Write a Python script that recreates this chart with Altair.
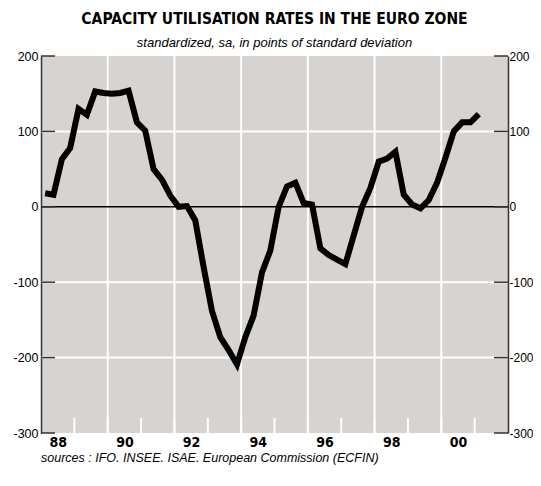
import altair as alt
import pandas as pd

# Quarterly data 1988Q1 - 2001Q1
values = [18, 16, 63, 78,
          130, 122, 153, 151,
          150, 151, 154, 112,
          101, 50, 36, 15,
          0, 1, -18, -80,
          -138, -173, -190, -209,
          -173, -144, -87, -58,
          0, 27, 32, 5,
          3, -55, -64, -70,
          -76, -38, 0, 25,
          60, 64, 73, 16,
          3, -2, 9, 32,
          65, 100, 112, 112,
          123]
start_year = 1988
y_ticks = [200, 100, 0, -100, -200, -300]
y_grid = [100, -100, -200]
x_label_years = [1988, 1990, 1992, 1994, 1996, 1998, 2000]
x_grid_years = [1990, 1992, 1994, 1996, 1998, 2000]
x_minor_years = list(range(1989, 2002))

W, H = 467, 377
FONT = "Liberation Sans"
NARROW = "Liberation Sans Narrow, DejaVu Sans Condensed, Liberation Sans"
BG = "#d6d3d0"
DARK = "#333333"
YLAB = "datum.value < 0 ? '-' + toString(-datum.value) : toString(datum.value)"

df = pd.DataFrame({
    "t": [start_year + i / 4 + 0.125 for i in range(len(values))],
    "v": values,
})

xs = alt.Scale(domain=[1988, 2002], nice=False, zero=False)
ys = alt.Scale(domain=[-300, 200], nice=False, zero=False)

X_AXIS = alt.Axis(values=[y + 0.5 for y in x_label_years],
                  labelExpr="substring(toString(floor(datum.value)), 2)",
                  ticks=False, domain=False, grid=False, labelPadding=2,
                  labelFont=NARROW, labelFontSize=14, labelFontWeight="bold",
                  labelColor="black", title=None)

ygrid = alt.Chart(pd.DataFrame({"gv": y_grid})).mark_rule(
    color="white", strokeWidth=2
).encode(y=alt.Y("gv:Q", scale=ys, axis=None))

xgrid = alt.Chart(pd.DataFrame({"gt": x_grid_years})).mark_rule(
    color="white", strokeWidth=2
).encode(x=alt.X("gt:Q", scale=xs))

xminor = alt.Chart(pd.DataFrame({"mt": x_minor_years})).mark_rule(
    color="white", strokeWidth=2
).encode(x=alt.X("mt:Q", scale=xs), y=alt.value(H - 15), y2=alt.value(H))

zero = alt.Chart(pd.DataFrame({"zv": [0]})).mark_rule(
    color="black", strokeWidth=1.5
).encode(y=alt.Y("zv:Q", scale=ys,
                 axis=alt.Axis(orient="right", values=y_ticks, ticks=False,
                               labelPadding=1, grid=False, domain=True,
                               domainColor=DARK, domainWidth=1.5,
                               labelFont=FONT, labelFontSize=12, labelExpr=YLAB,
                               labelColor="black", title=None)))

ticks_df = pd.DataFrame({"tv": y_ticks})
lticks = alt.Chart(ticks_df).mark_rule(color=DARK, strokeWidth=1.5).encode(
    y=alt.Y("tv:Q", scale=ys, axis=None), x=alt.value(0), x2=alt.value(14))
rticks = alt.Chart(ticks_df).mark_rule(color=DARK, strokeWidth=1.5).encode(
    y=alt.Y("tv:Q", scale=ys, axis=None), x=alt.value(W - 14), x2=alt.value(W))

line = alt.Chart(df).mark_line(color="black", strokeWidth=6, strokeJoin="miter").encode(
    x=alt.X("t:Q", scale=xs, axis=X_AXIS),
    y=alt.Y("v:Q", scale=ys,
            axis=alt.Axis(orient="left", values=y_ticks, ticks=False,
                          labelPadding=3, grid=False, domain=True,
                          domainColor=DARK, domainWidth=1.5,
                          labelFont=FONT, labelFontSize=12.5, labelExpr=YLAB,
                          labelColor="black", title=None)),
)

source = alt.Chart(pd.DataFrame({"s": ["sources : IFO. INSEE. ISAE. European Commission (ECFIN)"]})).mark_text(
    align="left", baseline="middle", font=FONT, fontSize=12.5, fontStyle="italic", color="black"
).encode(x=alt.value(0), y=alt.value(H + 25), text="s:N")

chart = alt.layer(ygrid, xgrid, xminor, zero, lticks, rticks, line, source).resolve_axis(
    y="independent"
).properties(
    width=W, height=H,
    padding={"left": 33, "top": 48, "right": 25, "bottom": 33},
    autosize=alt.AutoSizeParams(type="none"),
    background="white",
    title=alt.TitleParams(
        text="CAPACITY UTILISATION RATES IN THE EURO ZONE",
        subtitle="standardized, sa, in points of standard deviation",
        anchor="middle", font=NARROW, fontSize=15.5, fontWeight="bold", color="black",
        subtitleFont=FONT, subtitleFontSize=13, subtitleFontStyle="italic",
        subtitleColor="black", subtitlePadding=10, offset=0,
    ),
).configure_view(fill=BG, stroke=None)

chart.save("out.html", embed_options={"renderer": "svg", "actions": False})
